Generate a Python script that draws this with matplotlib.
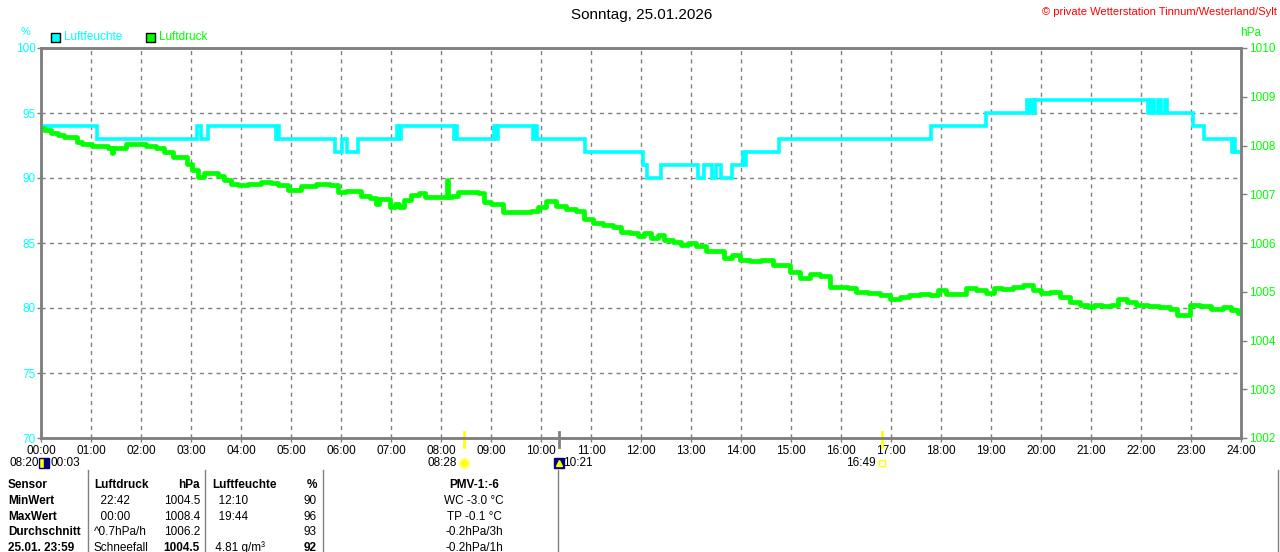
import matplotlib
matplotlib.use("Agg")
import matplotlib.pyplot as plt
from matplotlib.lines import Line2D

plt.rcParams['font.family'] = ['Liberation Sans Narrow', 'Liberation Sans', 'DejaVu Sans']

W, H = 1280, 552

# Luftfeuchte (%), step values: time in hours, value
hum_time = [0, 1.12, 3.12, 3.20, 3.34, 4.70, 4.73, 4.76, 5.88, 6.02, 6.12, 6.34,
            7.12, 7.16, 7.20, 8.26, 8.29, 8.31, 9.06, 9.10, 9.14, 9.84, 9.87, 9.92,
            10.88, 12.04, 12.12, 12.40, 13.14, 13.26, 13.42, 13.50, 13.60, 13.82,
            14.04, 14.07, 14.10, 14.76, 17.80, 18.90, 19.72, 19.76, 19.82, 19.85,
            19.88, 22.14, 22.20, 22.26, 22.34, 22.40, 22.48, 22.52, 23.04, 23.26,
            23.82, 23.86, 23.88, 24.0]
hum_value = [94, 93, 94, 93, 94, 93, 94, 93, 92, 93, 92, 93,
             94, 93, 94, 93, 94, 93, 94, 93, 94, 93, 94, 93,
             92, 91, 90, 91, 90, 91, 90, 91, 90, 91,
             92, 91, 92, 93, 94, 95, 96, 95, 96, 95,
             96, 95, 96, 95, 96, 95, 96, 95, 94, 93,
             92, 93, 92, 92]

# Luftdruck (hPa)
press_time = [0.0, 0.13, 0.27, 0.40, 0.53, 0.67, 0.77, 0.87, 0.97, 1.07, 1.27, 1.40,
              1.42, 1.44, 1.60, 1.80, 2.00, 2.20, 2.40, 2.53, 2.73, 2.87, 2.97, 3.07,
              3.20, 3.33, 3.47, 3.60, 3.73, 3.87, 4.00, 4.27, 4.53, 4.67, 4.80, 5.07,
              5.33, 5.67, 5.87,
              6.00, 6.20, 6.33, 6.47, 6.67, 6.73, 6.80, 6.93, 7.03, 7.13, 7.20, 7.33,
              7.47, 7.63, 7.73, 7.87, 8.00, 8.11, 8.13, 8.15, 8.27, 8.40, 8.67, 8.80,
              8.93, 9.07, 9.20, 9.27, 9.47, 9.73, 9.87, 10.00, 10.20, 10.40, 10.60,
              10.80, 10.93, 11.13, 11.33, 11.53, 11.67, 11.87,
              12.00, 12.13, 12.27, 12.40, 12.53, 12.73, 12.87, 13.00, 13.20, 13.40,
              13.57, 13.73, 13.90, 14.07, 14.27, 14.53, 14.73, 14.87, 15.07, 15.27,
              15.47, 15.67, 15.87, 16.07, 16.20, 16.40, 16.67, 16.87, 17.07, 17.27,
              17.47, 17.67, 17.87,
              18.00, 18.20, 18.40, 18.60, 18.80, 19.00, 19.13, 19.33, 19.53, 19.73,
              19.93, 20.07, 20.27, 20.47, 20.67, 20.87, 21.00, 21.13, 21.33, 21.47,
              21.63, 21.80, 22.00, 22.27, 22.47, 22.67, 22.77, 22.90, 23.07, 23.27,
              23.53, 23.73, 23.87, 24.00]
press_value = [1008.35, 1008.32, 1008.25, 1008.22, 1008.18, 1008.17, 1008.08, 1008.03,
               1008.04, 1007.99, 1007.98, 1007.94, 1007.84, 1007.94, 1007.94, 1008.03,
               1008.03, 1007.99, 1007.94, 1007.87, 1007.77, 1007.77, 1007.63, 1007.50,
               1007.36, 1007.43, 1007.43, 1007.37, 1007.29, 1007.22, 1007.19, 1007.22,
               1007.26, 1007.24, 1007.19, 1007.09, 1007.16, 1007.21, 1007.19,
               1007.05, 1007.07, 1007.07, 1006.96, 1006.92, 1006.81, 1006.90, 1006.90,
               1006.74, 1006.80, 1006.73, 1006.88, 1006.98, 1007.03, 1006.95, 1006.95,
               1006.95, 1006.95, 1007.29, 1006.95, 1006.96, 1007.05, 1007.05, 1007.02,
               1006.85, 1006.80, 1006.80, 1006.64, 1006.64, 1006.64, 1006.66, 1006.74,
               1006.87, 1006.76, 1006.69, 1006.66, 1006.49, 1006.42, 1006.37, 1006.33,
               1006.23, 1006.20,
               1006.14, 1006.20, 1006.11, 1006.16, 1006.06, 1006.03, 1005.96, 1005.99,
               1005.94, 1005.84, 1005.84, 1005.69, 1005.75, 1005.65, 1005.64, 1005.65,
               1005.55, 1005.55, 1005.41, 1005.28, 1005.36, 1005.33, 1005.10, 1005.10,
               1005.07, 1005.00, 1004.97, 1004.93, 1004.85, 1004.90, 1004.93, 1004.95,
               1004.93,
               1005.04, 1004.95, 1004.95, 1005.07, 1005.04, 1004.98, 1005.07, 1005.06,
               1005.09, 1005.14, 1005.03, 1004.97, 1004.99, 1004.90, 1004.80, 1004.73,
               1004.68, 1004.72, 1004.71, 1004.73, 1004.85, 1004.80, 1004.73, 1004.71,
               1004.68, 1004.64, 1004.52, 1004.52, 1004.73, 1004.70, 1004.64, 1004.68,
               1004.63, 1004.56]

hour_labels = [f"{h:02d}:00" for h in range(25)]
hum_ticks = [70, 75, 80, 85, 90, 95, 100]
press_ticks = [1002, 1003, 1004, 1005, 1006, 1007, 1008, 1009, 1010]

# sun / moon events (hours)
sunrise, sunset = 8 + 28 / 60, 16 + 49 / 60
moonset, moonrise = 0 + 3 / 60, 10 + 21 / 60

table_rows = [
    ["Sensor", "Luftdruck", "hPa", "Luftfeuchte", "%", "PMV-1:-6"],
    ["MinWert", "  22:42", "1004.5", "  12:10", "90", "WC -3.0 °C"],
    ["MaxWert", "  00:00", "1008.4", "  19:44", "96", "TP -0.1 °C"],
    ["Durchschnitt", "^0.7hPa/h", "1006.2", "", "93", "-0.2hPa/3h"],
    ["25.01. 23:59", "Schneefall", "1004.5", " 4.81 g/m³", "92", "-0.2hPa/1h"],
]

CYAN = "#00FFFF"
GREEN = "#00FF00"
GRAY = "#808080"


def fx(x):
    return x / W


def fy(y):
    return 1 - y / H


fig = plt.figure(figsize=(12.8, 5.52), dpi=100)
ax = fig.add_axes([fx(41), fy(438), (1241 - 41) / W, (438 - 48) / H])
ax2 = ax.twinx()

ax.plot(hum_time, hum_value, drawstyle="steps-post", color=CYAN, lw=2.6,
        solid_joinstyle="miter")
ax2.plot(press_time, press_value, drawstyle="steps-mid", color=GREEN, lw=3.4)

ax.set_xlim(0, 24)
ax.set_ylim(70, 100)
ax2.set_ylim(1002, 1010)
ax.set_xticks(range(25))
ax.set_xticklabels(hour_labels)
ax.set_yticks(hum_ticks)
ax2.set_yticks(press_ticks)

ax.grid(True, color=GRAY, linestyle=(0, (3, 3)), lw=1.0)
for a in (ax, ax2):
    for s in a.spines.values():
        s.set_color(GRAY)
        s.set_linewidth(1.8)
ax.tick_params(axis="x", colors=GRAY, labelcolor="black", labelsize=8.5,
               length=3, width=1, pad=2)
ax.tick_params(axis="y", colors=GRAY, labelcolor=CYAN, labelsize=8.5,
               length=3, width=1, pad=1)
ax2.tick_params(axis="y", colors=GRAY, labelcolor=GREEN, labelsize=8.5,
                length=4, width=1, pad=2)

# sunrise / sunset / moon marks on the time axis
xt = ax.get_xaxis_transform()
for t, c, lw in [(sunrise, "yellow", 2), (sunset, "yellow", 2), (moonrise, GRAY, 2)]:
    ax.plot([t, t], [0.016, -0.024], color=c, lw=lw, transform=xt, clip_on=False)
ev_y = -(463 - 438) / 390
ax.plot(moonset, ev_y, marker="s", ms=7, mfc="navy", mfcalt="yellow",
        fillstyle="right", mec="navy", transform=xt, clip_on=False)
ax.plot(sunrise, ev_y, marker="o", ms=7, mfc="yellow", mec="#FFFF99", mew=1.5,
        transform=xt, clip_on=False)
ax.plot(moonrise, ev_y, marker="s", ms=7, mfc="navy", mec="navy",
        transform=xt, clip_on=False)
ax.plot(moonrise, ev_y, marker="^", ms=4, mfc="yellow", mec="yellow",
        transform=xt, clip_on=False)
ax.plot(sunset, ev_y, marker="s", ms=5, mfc="none", mec="yellow", mew=1,
        transform=xt, clip_on=False)
ev_font = dict(fontsize=8.5, va="center", transform=xt, clip_on=False)
ax.text(moonset + 0.14, ev_y, "00:03", ha="left", **ev_font)
ax.text(sunrise - 0.14, ev_y, "08:28", ha="right", **ev_font)
ax.text(moonrise + 0.09, ev_y, "10:21", ha="left", **ev_font)
ax.text(sunset - 0.12, ev_y, "16:49", ha="right", **ev_font)
fig.text(fx(10), fy(463), "08:20", fontsize=8.5, va="center", ha="left")

# titles and labels
fig.text(fx(642), fy(15), "Sonntag, 25.01.2026", fontsize=11, ha="center", va="center")
fig.text(fx(1277), fy(12), "© private Wetterstation Tinnum/Westerland/Sylt",
         fontsize=8, color="red", ha="right", va="center")
fig.text(fx(26), fy(32), "%", fontsize=8, color=CYAN, ha="center", va="center")
fig.text(fx(1240), fy(33), "hPa", fontsize=8.5, color=GREEN, ha="left", va="center")

# legend
for x0, col, name in [(51, CYAN, "Luftfeuchte"), (146, GREEN, "Luftdruck")]:
    fig.patches.append(plt.Rectangle((fx(x0), fy(42)), 9 / W, 9 / H, facecolor=col,
                                     edgecolor="black", lw=1, transform=fig.transFigure))
    fig.text(fx(x0 + 13), fy(37.5), name, fontsize=8.5, color=col, va="center")

# info table
for xs in [88, 205, 323, 558, 1278]:
    fig.add_artist(Line2D([fx(xs), fx(xs)], [fy(470), fy(552)], color=GRAY, lw=1))
row_y = [485, 501, 517, 532, 548]
for i, row in enumerate(table_rows):
    y = fy(row_y[i])
    hdr = "bold" if i == 0 else "normal"
    num = "bold" if i in (0, 4) else "normal"
    fig.text(fx(8), y, row[0], fontsize=8.5, weight="bold", va="center")
    fig.text(fx(94), y, row[1], fontsize=8.5, weight=hdr, va="center")
    fig.text(fx(200), y, row[2], fontsize=8.5, weight=num, va="center", ha="right")
    fig.text(fx(212), y, row[3], fontsize=8.5, weight=hdr, va="center")
    fig.text(fx(317), y, row[4], fontsize=8.5, weight=num, va="center", ha="right")
    fig.text(fx(474), y, row[5], fontsize=8.5, weight=hdr, va="center", ha="center")

fig.savefig("out.png", dpi=100)
